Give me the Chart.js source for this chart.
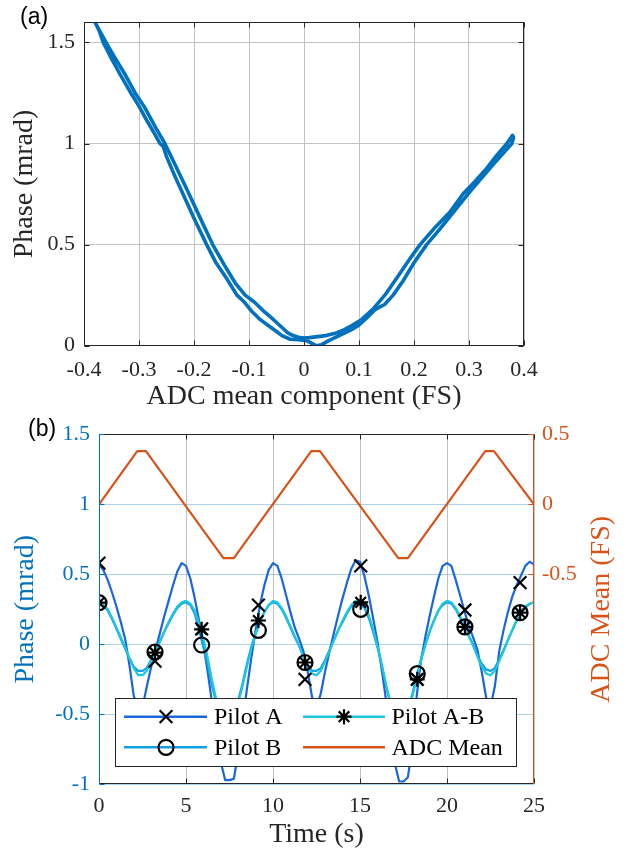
<!DOCTYPE html>
<html><head><meta charset="utf-8">
<script src="https://cdn.jsdelivr.net/npm/chart.js@4.4.1/dist/chart.umd.min.js"></script>
<style>
html,body{margin:0;padding:0;background:#fff;}
#wrap{position:relative;width:629px;height:857px;overflow:hidden;background:#fff;}
canvas{position:absolute;left:0;}
#c1{top:0;} #c2{top:405px;}
</style></head><body>
<div id="wrap"><canvas id="c1" width="629" height="420"></canvas><canvas id="c2" width="629" height="452"></canvas></div>
<script>
// ---------------- (a) data: phase vs ADC mean component (loop trace) ----------------
const loopAdc = [
 -0.380,-0.372,-0.365,-0.350,-0.335,-0.315,-0.300,-0.285,-0.270,-0.262,-0.256,-0.250,-0.235,-0.220,-0.200,-0.177,
 -0.160,-0.140,-0.122,-0.110,-0.095,-0.080,-0.065,-0.050,-0.040,-0.025,-0.010,0.005,0.015,0.022,0.032,0.045,
 0.060,0.075,0.090,0.099,0.115,0.130,0.147,0.162,0.180,0.200,0.223,0.245,0.270,0.298,0.320,0.345,0.365,0.378,0.381,
 0.379,0.369,0.350,0.330,0.310,0.289,0.265,0.240,0.211,0.190,0.170,0.147,0.125,0.105,0.087,0.070,0.055,0.040,
 0.025,0.010,0.000,-0.010,-0.020,-0.030,-0.044,-0.060,-0.075,-0.090,-0.107,-0.125,-0.145,-0.166,-0.185,-0.209,
 -0.230,-0.253,-0.270,-0.290,-0.307,-0.325,-0.345,-0.360,-0.372,-0.380
];
const loopPhase = [
 1.600,1.555,1.500,1.420,1.345,1.250,1.185,1.110,1.040,1.000,0.985,0.935,0.840,0.750,0.630,0.500,
 0.410,0.330,0.250,0.220,0.170,0.130,0.100,0.070,0.050,0.032,0.030,0.025,0.010,0.000,0.005,0.025,
 0.045,0.065,0.085,0.100,0.140,0.180,0.205,0.250,0.320,0.410,0.500,0.570,0.655,0.750,0.820,0.900,0.960,1.000,1.030,
 1.040,1.000,0.940,0.870,0.810,0.750,0.660,0.590,0.500,0.420,0.340,0.250,0.180,0.130,0.100,0.075,0.060,0.050,
 0.045,0.040,0.038,0.042,0.050,0.065,0.100,0.140,0.175,0.215,0.250,0.310,0.400,0.500,0.610,0.750,
 0.870,1.000,1.080,1.180,1.250,1.340,1.430,1.500,1.560,1.600
];
const topXTicks = [-0.4,-0.3,-0.2,-0.1,0,0.1,0.2,0.3,0.4];
const topYTicks = [0,0.5,1,1.5];

// ---------------- (b) data: time series ----------------
const timeS = [
 0,0.25,0.5,0.75,1,1.25,1.5,1.75,2,2.25,2.5,2.75,3,3.25,3.5,3.75,4,4.25,4.5,4.75,5,
 5.25,5.5,5.75,6,6.25,6.5,6.75,7,7.25,7.5,7.75,8,8.25,8.5,8.75,9,9.25,9.5,9.75,10,
 10.25,10.5,10.75,11,11.25,11.5,11.75,12,12.25,12.5,12.75,13,13.25,13.5,13.75,14,14.25,14.5,14.75,15,
 15.25,15.5,15.75,16,16.25,16.5,16.75,17,17.25,17.5,17.75,18,18.25,18.5,18.75,19,19.25,19.5,19.75,20,
 20.25,20.5,20.75,21,21.25,21.5,21.75,22,22.25,22.5,22.75,23,23.25,23.5,23.75,24,24.25,24.5,24.75,25
];
const pilotA = [
 0.57,0.53,0.46,0.37,0.27,0.16,0.04,-0.15,-0.37,-0.45,-0.45,-0.30,-0.16,-0.04,0.08,0.20,0.31,0.42,0.52,0.58,0.56,
 0.47,0.33,0.17,0.00,-0.20,-0.42,-0.63,-0.84,-0.97,-0.97,-0.96,-0.78,-0.55,-0.32,-0.10,0.10,0.28,0.42,0.53,0.58,
 0.56,0.47,0.35,0.23,0.12,0.04,-0.05,-0.20,-0.38,-0.45,-0.35,-0.19,-0.05,0.08,0.21,0.33,0.44,0.54,0.60,0.59,
 0.49,0.35,0.19,0.02,-0.18,-0.40,-0.62,-0.85,-0.98,-0.98,-0.95,-0.74,-0.38,-0.12,0.05,0.20,0.34,0.47,0.56,0.58,
 0.56,0.46,0.35,0.24,0.13,0.05,-0.04,-0.20,-0.38,-0.45,-0.30,-0.05,0.10,0.23,0.34,0.42,0.49,0.56,0.59,0.57
];
const pilotB = [
 0.30,0.28,0.24,0.18,0.11,0.04,-0.03,-0.10,-0.16,-0.19,-0.19,-0.17,-0.11,-0.05,0.02,0.09,0.15,0.21,0.26,0.29,0.30,
 0.28,0.22,0.10,-0.02,-0.15,-0.30,-0.42,-0.50,-0.55,-0.55,-0.50,-0.40,-0.28,-0.14,-0.02,0.08,0.16,0.23,0.28,0.30,
 0.29,0.25,0.19,0.12,0.05,-0.01,-0.09,-0.15,-0.19,-0.19,-0.17,-0.11,-0.04,0.03,0.10,0.16,0.22,0.27,0.29,0.29,
 0.26,0.19,0.09,-0.02,-0.15,-0.30,-0.42,-0.50,-0.55,-0.55,-0.48,-0.36,-0.23,-0.11,0.00,0.09,0.17,0.24,0.28,0.30,
 0.29,0.25,0.19,0.13,0.06,0.00,-0.08,-0.14,-0.18,-0.19,-0.17,-0.11,-0.04,0.03,0.10,0.17,0.22,0.26,0.29,0.30
];
const pilotAB = [
 0.29,0.28,0.25,0.19,0.12,0.05,-0.02,-0.10,-0.17,-0.22,-0.22,-0.19,-0.12,-0.05,0.02,0.09,0.16,0.22,0.27,0.30,0.31,
 0.29,0.24,0.15,0.04,-0.10,-0.26,-0.40,-0.50,-0.56,-0.56,-0.52,-0.42,-0.30,-0.16,-0.03,0.07,0.16,0.23,0.28,0.31,
 0.30,0.26,0.20,0.13,0.06,-0.01,-0.09,-0.16,-0.21,-0.22,-0.19,-0.12,-0.05,0.03,0.10,0.17,0.23,0.28,0.31,0.31,
 0.28,0.21,0.11,-0.01,-0.14,-0.29,-0.42,-0.51,-0.56,-0.56,-0.50,-0.38,-0.25,-0.12,-0.01,0.09,0.17,0.24,0.29,0.31,
 0.30,0.26,0.20,0.13,0.06,-0.01,-0.09,-0.16,-0.21,-0.22,-0.19,-0.12,-0.05,0.03,0.10,0.17,0.23,0.27,0.29,0.30
];
const adcTime = [0,2.2,2.7,7.15,7.75,12.2,12.7,17.2,17.75,22.2,22.7,25];
const adcMean = [0,0.38,0.38,-0.385,-0.385,0.38,0.38,-0.385,-0.385,0.38,0.38,0];
const markTime = [0,3.22,5.9,9.16,11.84,15.04,18.29,21.03,24.2];
const markA  = [0.58,-0.12,0.11,0.28,-0.25,0.56,-0.25,0.245,0.44];
const markB  = [0.297,-0.055,-0.005,0.10,-0.13,0.25,-0.21,0.124,0.226];
const markAB = [0.297,-0.06,0.107,0.17,-0.13,0.30,-0.25,0.124,0.226];
const botXTicks = [0,5,10,15,20,25];
const leftYTicks = [-1,-0.5,0,0.5,1,1.5];
const rightYTicks = [-0.5,0,0.5];
const legendNames = ['Pilot A','Pilot B','Pilot A-B','ADC Mean'];

// ---------------- styling ----------------
const SERIF = "'Liberation Serif','Times New Roman',serif";
const SANS = "'Liberation Sans',Arial,sans-serif";
const DARK = '#262626';
const BLUE_AX = '#0072BD';
const ORANGE = '#D95319';
const C_A = '#1a66dc';
const C_B = '#12a0e4';
const C_AB = '#1cc8df';
const GRID = '#c2c2c2';
const TITLE_PX = 28;
const fmt = v => String(Math.round(v*10)/10);
Chart.defaults.font.family = SERIF;

function pts(xs, ys){ return xs.map((x,i)=>({x:x, y:ys[i]})); }
function setTicks(list){ return s => { s.ticks = list.map(v=>({value:v})); }; }

function drawMarker(ctx, style, x, y, r){
  ctx.beginPath();
  if (style === 'circle') { ctx.arc(x,y,r,0,Math.PI*2); }
  if (style === 'crossRot' || style === 'star') {
    const d = r*0.7071;
    ctx.moveTo(x-d,y-d); ctx.lineTo(x+d,y+d); ctx.moveTo(x-d,y+d); ctx.lineTo(x+d,y-d);
  }
  if (style === 'star') { ctx.moveTo(x-r,y); ctx.lineTo(x+r,y); ctx.moveTo(x,y-r); ctx.lineTo(x,y+r); }
  ctx.stroke();
}

// ---------------- chart (a) ----------------
const topDecor = {
  id:'topDecor',
  afterDatasetsDraw(chart){
    const {ctx, chartArea:a, scales:{x,y}} = chart;
    const L=Math.round(a.left)+0.5, R=Math.round(a.right)-0.5, T=Math.round(a.top)+0.5, B=Math.round(a.bottom)-0.5;
    ctx.save();
    ctx.strokeStyle = DARK; ctx.lineWidth = 1;
    ctx.beginPath();
    x.ticks.forEach(t=>{ const p=Math.round(x.getPixelForValue(t.value))+0.5; ctx.moveTo(p,B); ctx.lineTo(p,B-5); ctx.moveTo(p,T); ctx.lineTo(p,T+5); });
    y.ticks.forEach(t=>{ const p=Math.round(y.getPixelForValue(t.value))+0.5; ctx.moveTo(L,p); ctx.lineTo(L+5,p); ctx.moveTo(R,p); ctx.lineTo(R-5,p); });
    ctx.stroke();
    ctx.strokeRect(L,T,R-L,B-T);
    ctx.restore();
  },
  afterDraw(chart){
    const ctx = chart.ctx;
    ctx.save();
    ctx.fillStyle = '#000'; ctx.font = '23px ' + SANS; ctx.textBaseline = 'middle'; ctx.textAlign = 'left';
    ctx.fillText('(a)', 20, 18);
    ctx.restore();
  }
};

new Chart(document.getElementById('c1'), {
  type:'line',
  data:{ datasets:[{ data: pts(loopAdc, loopPhase), borderColor:'#0072BD', borderWidth:3.6, pointRadius:0, tension:0, borderJoinStyle:'round', borderCapStyle:'round' }] },
  options:{
    responsive:false, animation:false, devicePixelRatio:1,
    layout:{ padding:{ top:20.4, right:105, left:0, bottom:0 } },
    plugins:{ legend:{display:false}, tooltip:{enabled:false} },
    scales:{
      x:{ type:'linear', min:-0.4, max:0.4, afterBuildTicks:setTicks(topXTicks),
          afterFit(s){ s.height = 74.3; },
          grid:{ color:GRID, lineWidth:1, drawTicks:false }, border:{display:false},
          ticks:{ color:DARK, padding:11, maxRotation:0, autoSkip:false, font:{family:SERIF,size:22}, callback:v=>fmt(v) },
          title:{ display:true, text:'ADC mean component (FS)', color:DARK, font:{family:SERIF,size:TITLE_PX}, padding:{top:0,bottom:6.2} } },
      y:{ type:'linear', min:0, max:1.6, afterBuildTicks:setTicks(topYTicks),
          afterFit(s){ s.width = 84; },
          grid:{ color:GRID, lineWidth:1, drawTicks:false }, border:{display:false},
          ticks:{ color:DARK, padding:9, font:{family:SERIF,size:22}, callback:v=>fmt(v) },
          title:{ display:true, text:'Phase (mrad)', color:DARK, font:{family:SERIF,size:TITLE_PX}, padding:{top:8.2,bottom:0} } }
    }
  },
  plugins:[topDecor]
});

// ---------------- chart (b) ----------------
const legendItems = [
  {name:legendNames[0], color:C_A, marker:'crossRot', r:9,   col:0, row:0},
  {name:legendNames[2], color:C_AB, marker:'star',    r:7.5, col:1, row:0},
  {name:legendNames[1], color:C_B, marker:'circle',   r:7.5, col:0, row:1},
  {name:legendNames[3], color:ORANGE, marker:null,    r:0,   col:1, row:1}
];
const botDecor = {
  id:'botDecor',
  afterDatasetsDraw(chart){
    const {ctx, chartArea:a, scales:{x,y,y2}} = chart;
    const L=Math.round(a.left)+0.5, R=Math.round(a.right)-0.5, T=Math.round(a.top)+0.5, B=Math.round(a.bottom)-0.5;
    ctx.save();
    ctx.lineWidth = 1;
    ctx.strokeStyle = DARK;
    ctx.beginPath();
    x.ticks.forEach(t=>{ const p=Math.round(x.getPixelForValue(t.value))+0.5; ctx.moveTo(p,B); ctx.lineTo(p,B-5); ctx.moveTo(p,T); ctx.lineTo(p,T+5); });
    ctx.moveTo(L,T); ctx.lineTo(R,T); ctx.moveTo(L,B); ctx.lineTo(R,B);
    ctx.stroke();
    ctx.strokeStyle = BLUE_AX;
    ctx.beginPath();
    y.ticks.forEach(t=>{ const p=Math.round(y.getPixelForValue(t.value))+0.5; ctx.moveTo(L,p); ctx.lineTo(L+5,p); });
    ctx.moveTo(L,T); ctx.lineTo(L,B);
    ctx.stroke();
    ctx.strokeStyle = ORANGE;
    ctx.beginPath();
    y2.ticks.forEach(t=>{ const p=Math.round(y2.getPixelForValue(t.value))+0.5; ctx.moveTo(R,p); ctx.lineTo(R-5,p); });
    ctx.moveTo(R,T); ctx.lineTo(R,B);
    ctx.stroke();
    ctx.restore();
  },
  afterDraw(chart){
    const {ctx, chartArea:a} = chart;
    ctx.save();
    // legend box
    const bx=115.5, by=293.5, bw=401, bh=68;
    ctx.fillStyle='#fff'; ctx.fillRect(bx,by,bw,bh);
    ctx.strokeStyle=DARK; ctx.lineWidth=1; ctx.strokeRect(bx,by,bw,bh);
    const colX = [{l:124,r:207,m:166,t:214},{l:303,r:385,m:344,t:391.5}];
    const rowY = [311.7, 342.3];
    legendItems.forEach(it=>{
      const c = colX[it.col], yy = rowY[it.row];
      ctx.strokeStyle = it.color; ctx.lineWidth = 2.4;
      ctx.beginPath(); ctx.moveTo(c.l,yy); ctx.lineTo(c.r,yy); ctx.stroke();
      if (it.marker){ ctx.strokeStyle='#000'; ctx.lineWidth=2.2; drawMarker(ctx, it.marker, c.m, yy, it.r); }
      ctx.fillStyle='#000'; ctx.font='24px '+SERIF; ctx.textAlign='left'; ctx.textBaseline='middle';
      ctx.fillText(it.name, c.t, yy+1);
    });
    // right axis title (reads bottom to top)
    ctx.fillStyle = ORANGE; ctx.font = TITLE_PX + 'px '+SERIF; ctx.textAlign='center'; ctx.textBaseline='middle';
    ctx.translate(602, (a.top+a.bottom)/2); ctx.rotate(-Math.PI/2);
    ctx.fillText('ADC Mean (FS)', 0, 0);
    ctx.restore();
    ctx.save();
    ctx.fillStyle = '#000'; ctx.font = '23px ' + SANS; ctx.textBaseline='middle'; ctx.textAlign='left';
    ctx.fillText('(b)', 28, 25);
    ctx.restore();
  }
};

const lineDs = (label, xs, ys, color, order, axis) => ({
  label, data: pts(xs, ys), borderColor: color, borderWidth: 2.2, pointRadius: 0, tension: 0,
  order, yAxisID: axis, borderJoinStyle:'round'
});
const markDs = (label, ys, style, r, order) => ({
  label, data: pts(markTime, ys), showLine:false, pointStyle: style, pointRadius: r,
  pointBorderColor:'#000', pointBackgroundColor:'rgba(0,0,0,0)', pointBorderWidth: 2.2,
  borderColor:'#000', backgroundColor:'rgba(0,0,0,0)', order, yAxisID:'y', clip:0
});

new Chart(document.getElementById('c2'), {
  type:'line',
  data:{ datasets:[
    lineDs('Pilot A', timeS, pilotA, C_A, 5, 'y'),
    lineDs('Pilot B', timeS, pilotB, C_B, 4, 'y'),
    lineDs('Pilot A-B', timeS, pilotAB, C_AB, 3, 'y'),
    lineDs('ADC Mean', adcTime, adcMean, ORANGE, 6, 'y2'),
    markDs('Pilot A marks', markA, 'crossRot', 9, 2),
    markDs('Pilot B marks', markB, 'circle', 7.5, 1),
    markDs('Pilot A-B marks', markAB, 'star', 7.5, 0)
  ]},
  options:{
    responsive:false, animation:false, devicePixelRatio:1,
    layout:{ padding:{ top:29.3, right:0, left:0, bottom:0 } },
    plugins:{ legend:{display:false}, tooltip:{enabled:false} },
    scales:{
      x:{ type:'linear', min:0, max:25, afterBuildTicks:setTicks(botXTicks),
          afterFit(s){ s.height = 72.7; },
          grid:{ color:GRID, lineWidth:1, drawTicks:false }, border:{display:false},
          ticks:{ color:DARK, padding:9.2, maxRotation:0, autoSkip:false, font:{family:SERIF,size:22}, callback:v=>fmt(v) },
          title:{ display:true, text:'Time (s)', color:DARK, font:{family:SERIF,size:TITLE_PX}, padding:{top:0,bottom:5.2} } },
      y:{ type:'linear', position:'left', min:-1, max:1.5, afterBuildTicks:setTicks(leftYTicks),
          afterFit(s){ s.width = 99; },
          grid:{ color:'rgba(0,114,189,0.32)', lineWidth:1, drawTicks:false }, border:{display:false},
          ticks:{ color:BLUE_AX, padding:9, font:{family:SERIF,size:22}, callback:v=>fmt(v) },
          title:{ display:true, text:'Phase (mrad)', color:BLUE_AX, font:{family:SERIF,size:TITLE_PX}, padding:{top:8.4,bottom:0} } },
      y2:{ type:'linear', position:'right', min:-2, max:0.5, afterBuildTicks:setTicks(rightYTicks),
          afterFit(s){ s.width = 95; },
          grid:{ drawOnChartArea:false, drawTicks:false }, border:{display:false},
          ticks:{ color:ORANGE, padding:8, font:{family:SERIF,size:22}, callback:v=>fmt(v) } }
    }
  },
  plugins:[botDecor]
});
</script>
</body></html>
